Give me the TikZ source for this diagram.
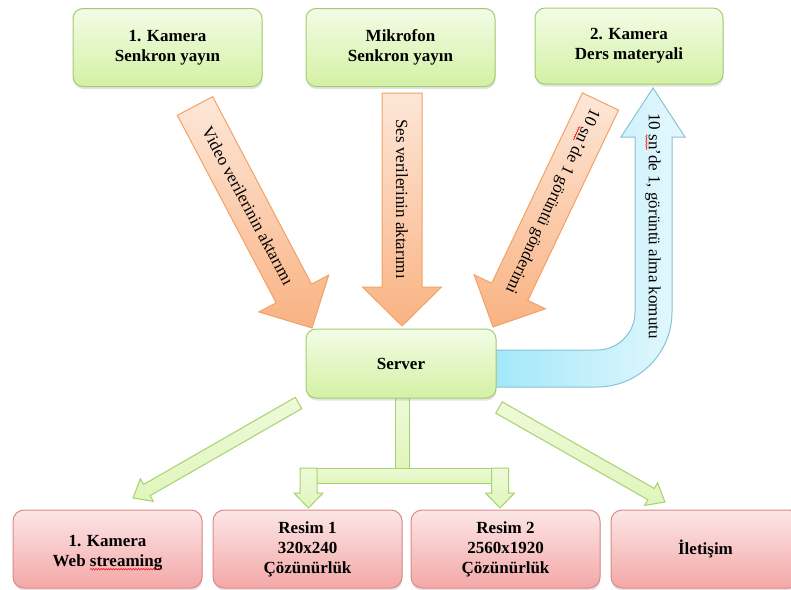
\documentclass[tikz,border=0pt]{standalone}
\usepackage{fontspec}
\setmainfont{Liberation Serif}
\usetikzlibrary{calc,shadows,decorations.pathmorphing}
\newsavebox\sqbox
\newlength\sqlen
\newcommand\redsq[1]{\sbox\sqbox{#1}\setlength\sqlen{\wd\sqbox}%
  \rlap{\tikz[baseline=0pt]\draw[red,line width=.5pt,decorate,decoration={snake,amplitude=.7pt,segment length=2.5pt}] (0pt,-2.5pt) -- (\sqlen,-2.5pt);}\usebox\sqbox}
\definecolor{gtop}{HTML}{F3FCE6}
\definecolor{gbot}{HTML}{D3F1A4}
\definecolor{gline}{HTML}{A3CC72}
\definecolor{ptop}{HTML}{FCE6E6}
\definecolor{pbot}{HTML}{F3A8A7}
\definecolor{pline}{HTML}{D98A89}
\definecolor{otop}{HTML}{FDE7D8}
\definecolor{obot}{HTML}{F9B282}
\definecolor{oline}{HTML}{F2A264}
\definecolor{bleft}{HTML}{9DE6F9}
\definecolor{bright}{HTML}{E6F8FD}
\definecolor{bline}{HTML}{86C3D6}
\definecolor{atop}{HTML}{EEFAD9}
\definecolor{abot}{HTML}{E0F5BC}
\definecolor{aline}{HTML}{A6D26C}
\newcommand\blockarrow[6][]{%
  \coordinate (ba-n) at ($(#3)!#6!(#2)$);
  \path[#1] ($(#2)!#4!90:(#3)$) -- ($(ba-n)!#4!90:(#3)$) -- ($(ba-n)!#5!90:(#3)$)
    -- (#3) -- ($(ba-n)!#5!-90:(#3)$) -- ($(ba-n)!#4!-90:(#3)$) -- ($(#2)!#4!-90:(#3)$) -- cycle;
}
\tikzset{
  shad/.style={drop shadow={shadow xshift=0.5pt, shadow yshift=-2.5pt, opacity=0.22}},
  boxfont/.style={align=center, font=\bfseries\fontsize{17}{20}\selectfont},
  gbox/.style={rectangle, rounded corners=10pt, draw=gline, line width=1pt,
    top color=gtop, bottom color=gbot, minimum width=189pt, minimum height=78pt,
    boxfont, shad},
  pbox/.style={rectangle, rounded corners=11pt, draw=pline, line width=1pt,
    top color=ptop, bottom color=pbot, minimum width=189pt, minimum height=78pt,
    boxfont, shad},
  oarrow/.style={draw=oline, line width=1pt, top color=otop, bottom color=obot, line join=miter},
  garrow/.style={draw=aline, line width=1pt, top color=atop, bottom color=abot, line join=miter},
  barrow/.style={draw=bline, line width=1pt, left color=bleft, right color=bright},
  atext/.style={font=\fontsize{17}{20}\selectfont, inner sep=0pt},
}
\begin{document}
\begin{tikzpicture}[x=1pt,y=1pt]
\useasboundingbox (0,0) rectangle (791,-589);
\clip (0,0) rectangle (791,-589);

% top boxes
\node[gbox] (cam1) at (167.5,-47.5) {1. Kamera\\Senkron yayın};
\node[gbox] (mic) at (400.5,-47.5) {Mikrofon\\Senkron yayın};
\node[gbox, minimum width=188pt, minimum height=76pt] (cam2) at (629,-46) {2. Kamera\\Ders materyali};

% orange arrows
\coordinate (v1) at (195,-106);
\coordinate (v2) at (312,-328);
\coordinate (s1) at (402,-93);
\coordinate (s2) at (402,-326);
\coordinate (k1) at (600.5,-101.5);
\coordinate (k2) at (493,-327);
\blockarrow[oarrow]{v1}{v2}{20pt}{39.5pt}{39pt}
\blockarrow[oarrow]{s1}{s2}{20pt}{39.5pt}{39pt}
\blockarrow[oarrow]{k1}{k2}{20pt}{39.5pt}{39pt}
\node[atext, rotate=-62] (tv) at (248,-206) {Video verilerinin aktarımı};
\node[atext, rotate=-90] (ts) at (402,-199) {Ses verilerinin aktarımı};
\node[atext, rotate=-115] (tk) at (552,-201) {10 \redsq{sn}’de 1 görüntü gönderimi};

% blue U arrow
\path[barrow] (480,-350) -- (597,-350) arc[start angle=-90, end angle=0, radius=38]
  -- (635,-137) -- (621,-137) -- (653,-88) -- (685,-137) -- (672,-137)
  -- (672,-312) arc[start angle=0, end angle=-90, radius=75] -- (480,-387) -- cycle;
\node[atext, rotate=-90] (tb) at (653,-226) {10 \redsq{sn}’de 1, görüntü alma komutu};

% green arrows from server
\coordinate (l1) at (298.5,-403);
\coordinate (l2) at (133,-498);
\coordinate (r1) at (499,-407.5);
\coordinate (r2) at (665,-502);
\blockarrow[garrow]{l1}{l2}{6.5pt}{13pt}{16pt}
\blockarrow[garrow]{r1}{r2}{6.5pt}{13pt}{16pt}
\path[garrow] (395,-396) rectangle (409,-468);
\path[garrow] (300,-468) rectangle (508,-483);
\coordinate (d1) at (308.5,-468);
\coordinate (d2) at (308.5,-508);
\coordinate (e1) at (500,-468);
\coordinate (e2) at (500,-508);
\blockarrow[garrow]{d1}{d2}{8.5pt}{14.5pt}{15pt}
\blockarrow[garrow]{e1}{e2}{8.5pt}{14.5pt}{15pt}

% server
\node[gbox, minimum width=190pt, minimum height=69pt] (server) at (401,-363.5) {Server};

% bottom boxes
\node[pbox] (b1) at (107.5,-549) {};
\node[boxfont, inner sep=0pt] (b1t) at ([yshift=-4pt]b1.center) {1. Kamera\\Web \redsq{streaming}};
\node[pbox] (b2) at (307.5,-549) {Resim 1\\320x240\\Çözünürlük};
\node[pbox] (b3) at (505.5,-549) {Resim 2\\2560x1920\\Çözünürlük};
\node[pbox] (b4) at (705.5,-549) {\raisebox{3pt}{İletişim}};
\end{tikzpicture}
\end{document}
